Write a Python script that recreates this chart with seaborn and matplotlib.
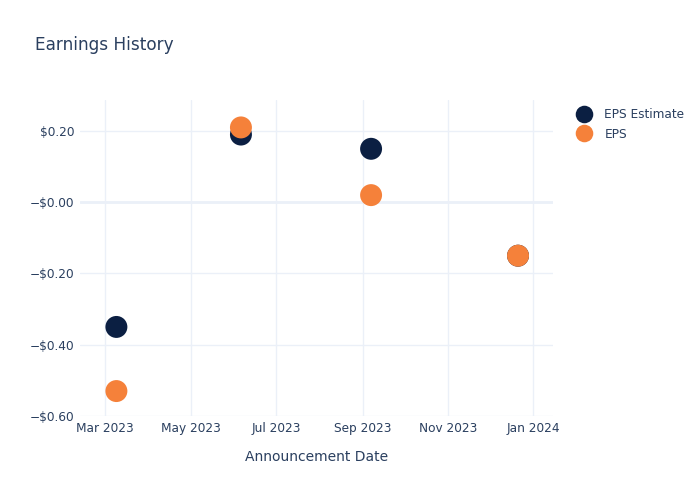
import matplotlib
matplotlib.use("Agg")
import matplotlib.pyplot as plt
import seaborn as sns
import pandas as pd

dates = ["2023-03-09", "2023-06-06", "2023-09-07", "2023-12-21"]
eps_estimate = [-0.35, 0.19, 0.15, -0.15]
eps_actual = [-0.53, 0.21, 0.02, -0.15]
y_ticks = [-0.6, -0.4, -0.2, 0.0, 0.2]
y_tick_labels = ["\u2212$0.60", "\u2212$0.40", "\u2212$0.20", "\u2212$0.00", "$0.20"]
x_ticks = ["2023-03-01", "2023-05-01", "2023-07-01", "2023-09-01", "2023-11-01", "2024-01-01"]
x_tick_labels = ["Mar 2023", "May 2023", "Jul 2023", "Sep 2023", "Nov 2023", "Jan 2024"]

df = pd.DataFrame({
    "date": pd.to_datetime(dates * 2),
    "value": eps_estimate + eps_actual,
    "series": ["EPS Estimate"] * len(dates) + ["EPS"] * len(dates),
})

sns.set_style("white")
plt.rcParams["font.family"] = ["DejaVu Sans"]
text_color = "#2a3f5f"
grid_color = "#ebf0f8"

fig = plt.figure(figsize=(7, 5), dpi=100)
ax = fig.add_axes([0.1143, 0.168, 0.6757, 0.632])

sns.scatterplot(data=df, x="date", y="value", hue="series",
                palette={"EPS Estimate": "#0b1f42", "EPS": "#f5813a"},
                s=250, linewidth=0, ax=ax, zorder=3)

ax.set_xlim(pd.Timestamp("2023-02-11"), pd.Timestamp("2024-01-15"))
ax.set_ylim(-0.6, 0.287)
ax.set_yticks(y_ticks)
ax.set_yticklabels(y_tick_labels)
ax.set_xticks(pd.to_datetime(x_ticks))
ax.set_xticklabels(x_tick_labels)
ax.tick_params(axis="both", colors=text_color, labelsize=8.7, length=0, pad=4)
ax.grid(True, color=grid_color, linewidth=1)
ax.set_axisbelow(True)
for sp in ax.spines.values():
    sp.set_visible(False)
ax.axhline(0, color=grid_color, linewidth=2, zorder=1)

ax.set_xlabel("Announcement Date", color=text_color, fontsize=10, labelpad=11)
ax.set_ylabel("")

fig.text(0.05, 0.91, "Earnings History", color=text_color, fontsize=12.2, va="center")

leg = ax.legend(loc="upper left", bbox_to_anchor=(1.022, 1.0), frameon=False,
                fontsize=8.7, handletextpad=0.7, labelspacing=0.5, markerscale=0.8,
                borderaxespad=0.3)
for t in leg.get_texts():
    t.set_color(text_color)

fig.savefig("out.png", dpi=100)
